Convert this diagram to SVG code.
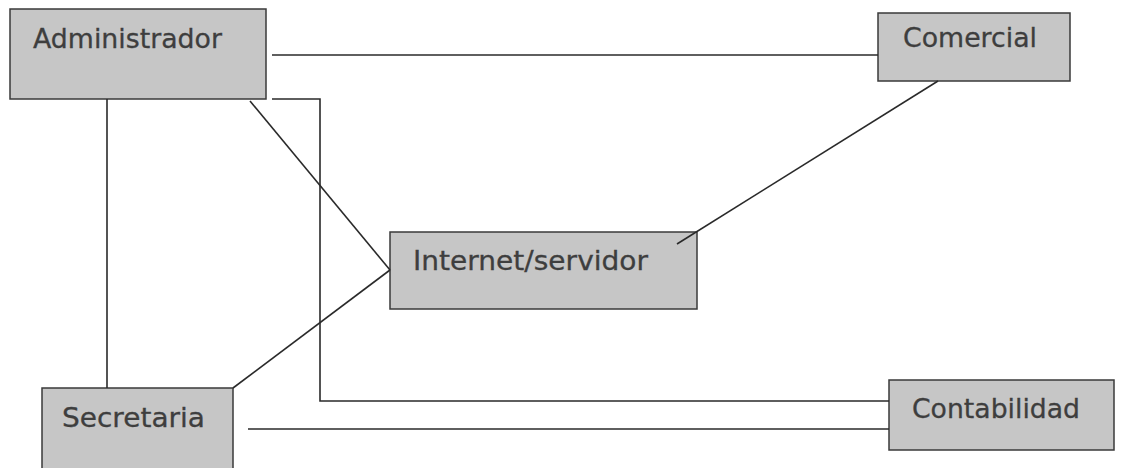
<svg xmlns="http://www.w3.org/2000/svg" width="1126" height="468" viewBox="0 0 1126 468">
  <style>
    .box { fill: #c6c6c6; stroke: #3a3a3a; stroke-width: 1.5; }
    .lbl { font-family: "DejaVu Sans", Verdana, sans-serif; font-size: 26px; fill: #3e3e3e; stroke: #3e3e3e; stroke-width: 0.3; }
    .wire { fill: none; stroke: #2a2a2a; stroke-width: 1.6; }
  </style>
  <rect width="1126" height="468" fill="#ffffff"/>

  <g id="administrador">
    <rect class="box" x="10" y="9" width="256" height="90"/>
    <text class="lbl" x="33" y="48" textLength="189" lengthAdjust="spacingAndGlyphs">Administrador</text>
  </g>

  <g id="comercial">
    <rect class="box" x="878" y="13" width="192" height="68"/>
    <text class="lbl" x="903" y="47" textLength="134" lengthAdjust="spacingAndGlyphs">Comercial</text>
  </g>

  <g id="internet-servidor">
    <rect class="box" x="390" y="232" width="307" height="77"/>
    <text class="lbl" x="413" y="270" textLength="235" lengthAdjust="spacingAndGlyphs">Internet/servidor</text>
  </g>

  <g id="secretaria">
    <rect class="box" x="42" y="388" width="191" height="90"/>
    <text class="lbl" x="62" y="427" textLength="143" lengthAdjust="spacingAndGlyphs">Secretaria</text>
  </g>

  <g id="contabilidad">
    <rect class="box" x="889" y="380" width="225" height="70"/>
    <text class="lbl" x="912" y="418" textLength="168" lengthAdjust="spacingAndGlyphs">Contabilidad</text>
  </g>

  <!-- connectors drawn last so the Comercial link shows inside the server box -->
  <g id="connectors">
    <line class="wire" x1="272" y1="55" x2="878" y2="55"/>
    <polyline class="wire" points="272,99 320,99 320,401 889,401"/>
    <line class="wire" x1="250" y1="101" x2="390" y2="270"/>
    <line class="wire" x1="107" y1="99" x2="107" y2="388"/>
    <line class="wire" x1="233" y1="388" x2="390" y2="270"/>
    <line class="wire" x1="677" y1="244" x2="938" y2="81"/>
    <line class="wire" x1="248" y1="429" x2="889" y2="429"/>
  </g>
</svg>
